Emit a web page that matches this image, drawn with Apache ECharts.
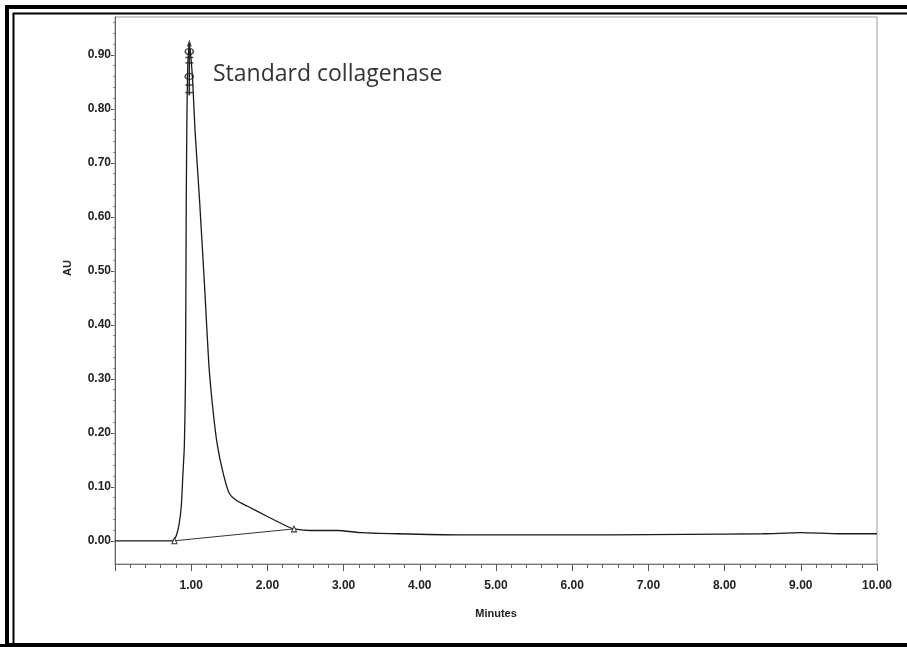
<!DOCTYPE html>
<html>
<head>
<meta charset="utf-8">
<script src="https://cdn.jsdelivr.net/npm/echarts@6/dist/echarts.min.js"></script>
<style>
  html, body { margin: 0; padding: 0; background: #fff; }
  #chart { width: 907px; height: 647px; }
</style>
</head>
<body>
<div id="chart"></div>
<script>
  // chromatogram trace (minutes, AU)
  const times = [0, 0.3, 0.6, 0.75, 0.80, 0.84, 0.87, 0.89, 0.91, 0.925, 0.935, 0.945, 0.955, 0.965, 0.975, 0.99, 1.02, 1.05, 1.11, 1.18, 1.23, 1.28, 1.34, 1.42, 1.50, 1.60, 1.74, 2.00, 2.27, 2.35, 2.57, 2.92, 3.23, 3.7, 4.5, 5.5, 6.5, 7.5, 8.5, 9.0, 9.5, 10.0]
  const absorbance = [0, 0, 0, 0, 0.008, 0.030, 0.064, 0.12, 0.175, 0.30, 0.63, 0.80, 0.88, 0.905, 0.918, 0.905, 0.85, 0.76, 0.63, 0.46, 0.33, 0.25, 0.18, 0.125, 0.088, 0.074, 0.064, 0.045, 0.026, 0.022, 0.019, 0.019, 0.015, 0.013, 0.011, 0.011, 0.011, 0.012, 0.013, 0.015, 0.013, 0.013]
  // integration baseline between peak start / end marks
  const baseTimes = [0.78, 2.35]
  const baseValues = [0.0, 0.022]
  // peak apex labels
  const apexTime = 0.975
  const apexCircles = [0.906, 0.86]
  const apexDashes = [0.895, 0.885, 0.844, 0.83]
  const apexTop = 0.922
  const apexBottom = 0.825
  // axis ticks
  const yTicks = [0, 0.1, 0.2, 0.3, 0.4, 0.5, 0.6, 0.7, 0.8, 0.9]
  const yMinorTicks = []
  for (let i = 0; i <= 48; i++) yMinorTicks.push(+(i * 0.02).toFixed(2))

  const chart = echarts.init(document.getElementById('chart'))
  const lab = { fontFamily: 'Liberation Sans Narrow, Liberation Sans, Arial', fontWeight: 'bold', fontSize: 12, color: '#222' }

  chart.setOption({
    animation: false,
    backgroundColor: '#fff',
    grid: {
      left: 115, right: 30, top: 17, bottom: 83,
      show: true, borderColor: '#999', borderWidth: 1
    },
    xAxis: {
      type: 'value',
      min: 0, max: 10, interval: 1,
      name: 'Minutes',
      nameLocation: 'middle',
      nameGap: 44,
      nameTextStyle: { ...lab, fontSize: 11 },
      axisLine: { show: true, onZero: false, lineStyle: { color: '#777', width: 1 } },
      axisTick: { show: true, length: 7, lineStyle: { color: '#555' } },
      minorTick: { show: true, splitNumber: 5, length: 4, lineStyle: { color: '#666' } },
      splitLine: { show: false },
      axisLabel: {
        ...lab,
        margin: 16,
        formatter: v => (v === 0 ? '' : v.toFixed(2))
      }
    },
    yAxis: [
      {
        type: 'value',
        min: -0.043, max: 0.970,
        axisLine: { show: true, lineStyle: { color: '#666', width: 1 } },
        axisTick: { show: true, length: 4, customValues: yTicks, lineStyle: { color: '#444' } },
        splitLine: { show: false },
        axisLabel: { ...lab, margin: 4, customValues: yTicks, formatter: v => v.toFixed(2) }
      },
      {
        type: 'value',
        position: 'left',
        min: -0.043, max: 0.970,
        axisLine: { show: false },
        axisTick: { show: true, length: 2, customValues: yMinorTicks, lineStyle: { color: '#888' } },
        splitLine: { show: false },
        axisLabel: { show: false }
      }
    ],
    graphic: [
      // double frame
      { type: 'rect', shape: { x: 7, y: 7, width: 920, height: 638 }, style: { fill: 'none', stroke: '#000', lineWidth: 4 } },
      { type: 'rect', shape: { x: 13.5, y: 13.5, width: 920, height: 640 }, style: { fill: 'none', stroke: '#000', lineWidth: 2 } },
      { type: 'rect', shape: { x: 0, y: 644, width: 907, height: 3 }, style: { fill: '#000' } },
      {
        type: 'text', left: 213, top: 63,
        style: { text: 'Standard collagenase', font: '23px "Open Sans", sans-serif', fill: '#333' }
      },
      {
        type: 'text', x: 68, y: 268, rotation: Math.PI / 2,
        style: { text: 'AU', font: 'bold 11px "Liberation Sans Narrow", "Liberation Sans", Arial', fill: '#222', align: 'center', verticalAlign: 'middle' }
      }
    ],
    series: [
      {
        name: 'Standard collagenase',
        type: 'line',
        data: times.map((t, i) => [t, absorbance[i]]),
        showSymbol: false,
        smooth: 0.2,
        lineStyle: { color: '#1a1a1a', width: 1.3 }
      },
      {
        name: 'baseline',
        type: 'line',
        data: baseTimes.map((t, i) => [t, baseValues[i]]),
        symbol: 'triangle',
        symbolSize: [5, 6],
        itemStyle: { color: '#fff', borderColor: '#333', borderWidth: 1 },
        lineStyle: { color: '#333', width: 1 }
      },
      {
        name: 'apex',
        type: 'line',
        data: [[apexTime, apexBottom], [apexTime, apexTop]],
        showSymbol: false,
        lineStyle: { color: '#222', width: 1.5 }
      },
      {
        type: 'scatter',
        data: apexCircles.map(v => [apexTime, v]),
        symbol: 'circle',
        symbolSize: [8, 6],
        itemStyle: { color: 'rgba(255,255,255,0)', borderColor: '#222', borderWidth: 1.5 }
      },
      {
        type: 'scatter',
        data: apexDashes.map(v => [apexTime, v]),
        symbol: 'rect',
        symbolSize: [8, 1.5],
        itemStyle: { color: '#222' }
      },
      {
        type: 'scatter',
        data: [[apexTime, apexTop]],
        symbol: 'triangle',
        symbolSize: [5, 7],
        itemStyle: { color: '#222' }
      }
    ]
  })
</script>
</body>
</html>
